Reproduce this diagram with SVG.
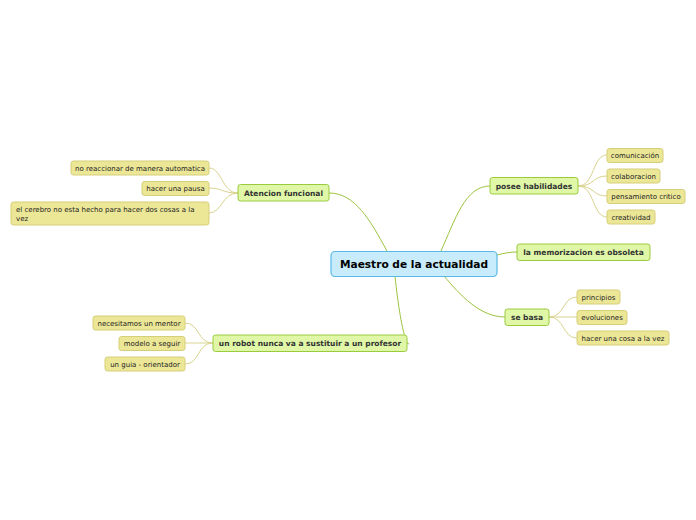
<svg xmlns="http://www.w3.org/2000/svg" width="696" height="520" viewBox="0 0 696 520">
<style>
.main rect{fill:#c8ecfc;stroke:#5ab8e6;stroke-width:1.2}
.main text{font-family:"DejaVu Sans",Verdana,sans-serif;font-size:10.6px;font-weight:bold;fill:#000}
.sub rect{fill:#dff7a6;stroke:#9acb3e;stroke-width:1}
.sub text{font-family:"DejaVu Sans",Verdana,sans-serif;font-size:7.5px;font-weight:bold;fill:#333}
.leaf rect{fill:#ece797;stroke:#d6cf7a;stroke-width:1}
.leaf text{font-family:"DejaVu Sans",Verdana,sans-serif;font-size:7px;fill:#222}
.g{fill:none;stroke:#9cc43e;stroke-width:1}
.y{fill:none;stroke:#d9d38e;stroke-width:1}
</style>
<rect width="696" height="520" fill="#fff"/>
<g id="connectors">
<path class="g" d="M387,251 C370,220 355,193 329,193"/>
<path class="g" d="M441,251 C455,220 465,186 490,186"/>
<path class="g" d="M497,255 C505,253 510,252 517,252"/>
<path class="g" d="M444,276 C460,295 480,317 505,317"/>
<path class="g" d="M395,276 C398,305 402,330 407,343 L409,344"/>
<path class="y" d="M238,193 C222,193 222,168 209,168"/>
<path class="y" d="M238,193 C222,193 222,188 209,188"/>
<path class="y" d="M238,193 C222,193 222,213 209,213"/>
<path class="y" d="M578,186 C595,186 592,155 607,155"/>
<path class="y" d="M578,186 C595,186 592,176 607,176"/>
<path class="y" d="M578,186 C595,186 592,196 607,196"/>
<path class="y" d="M578,186 C595,186 592,217 607,217"/>
<path class="y" d="M549,317 C565,317 562,297 577,297"/>
<path class="y" d="M549,317 C565,317 562,317 577,317"/>
<path class="y" d="M549,317 C565,317 562,338 577,338"/>
<path class="y" d="M213,343 C197,343 200,323 185,323"/>
<path class="y" d="M213,343 C197,343 200,343 185,343"/>
<path class="y" d="M213,343 C197,343 200,364 185,364"/>
</g>
<g id="central" class="main"><rect x="331" y="251.5" width="166" height="25" rx="4"/><text x="414" y="267.8" text-anchor="middle">Maestro de la actualidad</text></g>
<g id="atencion" class="sub"><rect x="238" y="184.5" width="91" height="16.5" rx="2.5"/><text x="283.5" y="195.6" text-anchor="middle">Atencion funcional</text></g>
<g id="posee" class="sub"><rect x="490" y="177.5" width="88" height="16.5" rx="2.5"/><text x="534" y="188.6" text-anchor="middle">posee habilidades</text></g>
<g id="memorizacion" class="sub"><rect x="517" y="244" width="133" height="16.5" rx="2.5"/><text x="583.5" y="255.1" text-anchor="middle">la memorizacion es obsoleta</text></g>
<g id="sebasa" class="sub"><rect x="505" y="309" width="44" height="16.5" rx="2.5"/><text x="527" y="320.1" text-anchor="middle">se basa</text></g>
<g id="robot" class="sub"><rect x="213" y="335" width="194" height="16.5" rx="2.5"/><text x="310" y="346.1" text-anchor="middle">un robot nunca va a sustituir a un profesor</text></g>
<g id="l1" class="leaf"><rect x="71" y="161" width="138" height="14" rx="2.5"/><text x="140" y="170.5" text-anchor="middle">no reaccionar de manera automatica</text></g>
<g id="l2" class="leaf"><rect x="142" y="181.5" width="67" height="14" rx="2.5"/><text x="175.5" y="191" text-anchor="middle">hacer una pausa</text></g>
<g id="l3" class="leaf"><rect x="11" y="202" width="198" height="23" rx="2.5"/><text x="16" y="212">el cerebro no esta hecho para hacer dos cosas a la</text><text x="16" y="221">vez</text></g>
<g id="l4" class="leaf"><rect x="607" y="148.5" width="56" height="14" rx="2.5"/><text x="635" y="158" text-anchor="middle">comunicación</text></g>
<g id="l5" class="leaf"><rect x="607" y="169" width="53" height="14" rx="2.5"/><text x="633.5" y="178.5" text-anchor="middle">colaboracion</text></g>
<g id="l6" class="leaf"><rect x="607" y="189.5" width="78" height="14" rx="2.5"/><text x="646" y="199" text-anchor="middle">pensamiento critico</text></g>
<g id="l7" class="leaf"><rect x="607" y="210" width="48" height="14" rx="2.5"/><text x="631" y="219.5" text-anchor="middle">creatividad</text></g>
<g id="l8" class="leaf"><rect x="577" y="290" width="43" height="14" rx="2.5"/><text x="598.5" y="299.5" text-anchor="middle">principios</text></g>
<g id="l9" class="leaf"><rect x="577" y="310.5" width="50" height="14" rx="2.5"/><text x="602" y="320" text-anchor="middle">evoluciones</text></g>
<g id="l10" class="leaf"><rect x="577" y="331" width="92" height="14" rx="2.5"/><text x="623" y="340.5" text-anchor="middle">hacer una cosa a la vez</text></g>
<g id="l11" class="leaf"><rect x="93" y="316" width="92" height="14" rx="2.5"/><text x="139" y="325.5" text-anchor="middle">necesitamos un mentor</text></g>
<g id="l12" class="leaf"><rect x="119" y="336.5" width="66" height="14" rx="2.5"/><text x="152" y="346" text-anchor="middle">modelo a seguir</text></g>
<g id="l13" class="leaf"><rect x="105" y="357" width="80" height="14" rx="2.5"/><text x="145" y="366.5" text-anchor="middle">un guia - orientador</text></g>
</svg>
